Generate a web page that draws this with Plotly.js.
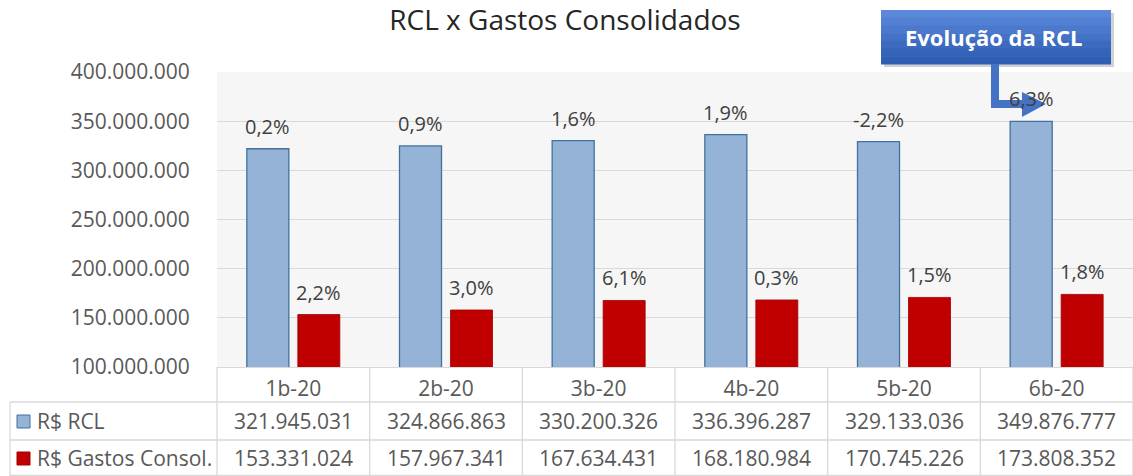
<!DOCTYPE html>
<html><head><meta charset="utf-8">
<script src="https://cdn.plot.ly/plotly-3.0.1.min.js"></script>
<style>html,body{margin:0;padding:0;background:#fff}#chart{width:1133px;height:476px}</style>
</head><body><div id="chart"></div>
<script>
const categories = ["1b-20","2b-20","3b-20","4b-20","5b-20","6b-20"];
const rcl = [321945031, 324866863, 330200326, 336396287, 329133036, 349876777];
const gastos = [153331024, 157967341, 167634431, 168180984, 170745226, 173808352];
const rclPct = ["0,2%","0,9%","1,6%","1,9%","-2,2%","6,3%"];
const gastosPct = ["2,2%","3,0%","6,1%","0,3%","1,5%","1,8%"];
const seriesNames = ["R$ RCL","R$ Gastos Consol."];
const yTicks = [100000000,150000000,200000000,250000000,300000000,350000000,400000000];

const fmt = v => String(v).replace(/\B(?=(\d{3})+(?!\d))/g, ".");
const FONT = "Open Sans, Noto Sans, sans-serif";
const GREY = "#595959";
const LABEL = "#404040";
const LINE = "#d9d9d9";
const FS = 21;

// layout geometry (pixels)
const W = 1133, H = 476, L = 217, R = 0, T = 72, B = 109;
const pw = W - L - R, ph = H - T - B;
const px = x => (x - L) / pw;
const py = y => (H - B - y) / ph;

const traces = [
  {type:"bar", x:categories, y:rcl, name:seriesNames[0],
   marker:{color:"#95B3D7", line:{color:"#41719C", width:1.3}}, hoverinfo:"skip"},
  {type:"bar", x:categories, y:gastos, name:seriesNames[1],
   marker:{color:"#C00000", line:{color:"#A00000", width:0.8}}, hoverinfo:"skip"}
];

const annotations = [];
const slotShift = pw / categories.length * (1 - 0.332) / 4;
categories.forEach((c, i) => {
  annotations.push({x:c, y:rcl[i], xref:"x", yref:"y", text:rclPct[i], showarrow:false,
    xshift:-slotShift, yanchor:"bottom", yshift:7, font:{family:FONT, size:20, color:LABEL}});
  annotations.push({x:c, y:gastos[i], xref:"x", yref:"y", text:gastosPct[i], showarrow:false,
    xshift:slotShift, yanchor:"bottom", yshift:7, font:{family:FONT, size:20, color:LABEL}});
  annotations.push({x:c, y:py(421), xref:"x", yref:"paper", text:fmt(rcl[i]), showarrow:false,
    yanchor:"middle", font:{family:FONT, size:FS, color:GREY}});
  annotations.push({x:c, y:py(458), xref:"x", yref:"paper", text:fmt(gastos[i]), showarrow:false,
    yanchor:"middle", font:{family:FONT, size:FS, color:GREY}});
});
// legend labels in table
annotations.push({x:px(35), y:py(421), xref:"paper", yref:"paper", text:seriesNames[0], showarrow:false,
  xanchor:"left", yanchor:"middle", font:{family:FONT, size:FS, color:GREY}});
annotations.push({x:px(35), y:py(458), xref:"paper", yref:"paper", text:seriesNames[1], showarrow:false,
  xanchor:"left", yanchor:"middle", font:{family:FONT, size:FS, color:GREY}});
// callout
annotations.push({x:px(993), y:py(37), xref:"paper", yref:"paper", text:"<b>Evolução da RCL</b>", showarrow:false,
  xanchor:"center", yanchor:"middle", font:{family:FONT, size:22, color:"#ffffff"}});

const shapes = [];
const ln = (x0,y0,x1,y1) => ({type:"line", xref:"paper", yref:"paper", x0:px(x0), y0:py(y0), x1:px(x1), y1:py(y1), line:{color:LINE, width:1.3}});
// table lines
shapes.push(ln(10,402,1133,402));
shapes.push(ln(10,440,1133,440));
shapes.push(ln(10,475.5,1133,475.5));
shapes.push(ln(10,402,10,476));
for (let i = 0; i <= categories.length; i++) {
  const x = L + pw * i / categories.length;
  shapes.push(ln(x,367,x,476));
}
// legend keys
shapes.push({type:"rect", xref:"paper", yref:"paper", x0:px(17), x1:px(30), y0:py(415), y1:py(428), fillcolor:"#95B3D7", line:{color:"#41719C", width:1}});
shapes.push({type:"rect", xref:"paper", yref:"paper", x0:px(17), x1:px(30), y0:py(452), y1:py(465), fillcolor:"#C00000", line:{color:"#A00000", width:1}});
// callout box (layered for gradient)
const boxTop = 10, boxBot = 64, boxL = 881, boxR = 1111;
shapes.push({type:"rect", xref:"paper", yref:"paper", x0:px(boxL+3), x1:px(boxR+3), y0:py(boxTop+3), y1:py(boxBot+3), fillcolor:"rgba(0,0,0,0.18)", line:{width:0}});
const grad = ["#5B88D8","#5281D3","#4A79CD","#4372C6","#3B6ABF","#3464B9","#2F5EB3"];
grad.forEach((c, k) => {
  const y0 = boxTop + (boxBot - boxTop) * k / grad.length;
  const y1 = boxTop + (boxBot - boxTop) * (k + 1) / grad.length;
  shapes.push({type:"rect", xref:"paper", yref:"paper", x0:px(boxL), x1:px(boxR), y0:py(y0), y1:py(y1 + 0.5), fillcolor:c, line:{width:0}});
});
// elbow arrow
const pts = [[991,64],[999,64],[999,100],[1022,100],[1022,92],[1046,104],[1022,117],[1022,108],[991,108]];
const path = "M " + pts.map(p => px(p[0]) + "," + py(p[1])).join(" L ") + " Z";
shapes.push({type:"path", xref:"paper", yref:"paper", path:path, fillcolor:"#4472C4", line:{width:0}});

const layout = {
  width:W, height:H,
  margin:{l:L, r:R, t:T, b:B, pad:0},
  paper_bgcolor:"#ffffff", plot_bgcolor:"#f6f6f6",
  title:{text:"RCL x Gastos Consolidados", x:565/W, xref:"container", xanchor:"center",
         y:1 - 20/H, yref:"container", yanchor:"middle", font:{family:FONT, size:28, color:"#262626"}},
  showlegend:false,
  barmode:"group", bargap:0.332, bargroupgap:0.176,
  xaxis:{type:"category", showgrid:false, showline:true, linecolor:LINE, linewidth:1.3,
         ticks:"outside", ticklen:2, tickcolor:"rgba(0,0,0,0)",
         tickfont:{family:FONT, size:FS, color:GREY}, fixedrange:true},
  yaxis:{range:[100000000, 400000000], tickvals:yTicks, ticktext:yTicks.map(fmt),
         showgrid:true, gridcolor:LINE, gridwidth:1.3, zeroline:false, showline:false,
         ticks:"outside", ticklen:22, tickcolor:"rgba(0,0,0,0)",
         tickfont:{family:FONT, size:FS, color:GREY}, fixedrange:true},
  annotations:annotations, shapes:shapes
};
Plotly.newPlot("chart", traces, layout, {displayModeBar:false, staticPlot:true});
</script></body></html>
